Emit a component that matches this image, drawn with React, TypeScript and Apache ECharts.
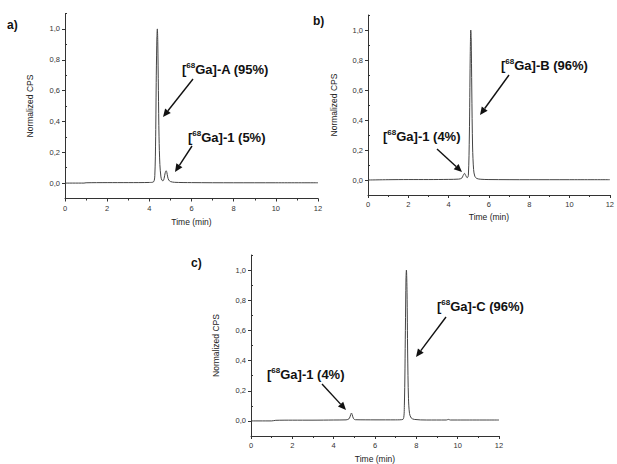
import React, { useEffect, useRef } from "react";
import * as echarts from "echarts";

// Chromatogram a) [68Ga]-A
const timeA = [0, 0.9, 1.0, 2, 3, 4.0, 4.2, 4.26, 4.3, 4.33, 4.36, 4.38, 4.4, 4.43, 4.46, 4.5, 4.55, 4.6, 4.65, 4.7, 4.75, 4.8, 4.83, 4.87, 4.92, 5.0, 5.2, 6, 8, 10, 12];
const cpsA = [0, 0, 0.002, 0.003, 0.003, 0.004, 0.008, 0.05, 0.3, 0.7, 0.95, 1.0, 0.92, 0.6, 0.3, 0.12, 0.04, 0.018, 0.015, 0.03, 0.065, 0.08, 0.07, 0.04, 0.02, 0.01, 0.005, 0.003, 0.002, 0.002, 0.002];

// Chromatogram b) [68Ga]-B
const timeB = [0, 1.0, 2, 3, 4.0, 4.5, 4.65, 4.72, 4.79, 4.85, 4.92, 4.98, 5.03, 5.07, 5.1, 5.12, 5.15, 5.19, 5.24, 5.3, 5.4, 5.6, 6, 8, 10, 12];
const cpsB = [0, 0.002, 0.003, 0.003, 0.004, 0.006, 0.012, 0.03, 0.044, 0.03, 0.015, 0.03, 0.3, 0.8, 1.0, 0.95, 0.6, 0.22, 0.07, 0.025, 0.01, 0.005, 0.003, 0.002, 0.002, 0.002];

// Chromatogram c) [68Ga]-C
const timeC = [0, 1.0, 1.2, 2, 3, 4.0, 4.6, 4.75, 4.82, 4.86, 4.9, 4.96, 5.05, 6, 7.0, 7.35, 7.42, 7.47, 7.5, 7.52, 7.55, 7.58, 7.62, 7.67, 7.75, 7.9, 8.5, 9.45, 9.55, 9.65, 10, 12];
const cpsC = [0, 0, 0.004, 0.005, 0.005, 0.006, 0.007, 0.015, 0.04, 0.052, 0.04, 0.015, 0.008, 0.007, 0.007, 0.01, 0.1, 0.6, 0.95, 1.0, 0.85, 0.45, 0.15, 0.05, 0.02, 0.01, 0.006, 0.006, 0.01, 0.006, 0.006, 0.006];

const xTicks = [0, 2, 4, 6, 8, 10, 12];
const yMajor = [0, 0.2, 0.4, 0.6, 0.8, 1.0];
const yMinor = [-0.1, 0.1, 0.3, 0.5, 0.7, 0.9, 1.1];

const zip = (t: number[], v: number[]) => t.map((x, i) => [x, v[i]]);

const LINE = "#444";
const AX = "#333";
const FONT = "Liberation Sans";

function arrow(x1: number, y1: number, x2: number, y2: number) {
  const dx = x2 - x1;
  const dy = y2 - y1;
  const len = Math.sqrt(dx * dx + dy * dy);
  const ux = dx / len;
  const uy = dy / len;
  const hl = 8;
  const hw = 3.6;
  const bx = x2 - ux * hl;
  const by = y2 - uy * hl;
  return [
    {
      type: "line",
      shape: { x1, y1, x2: bx, y2: by },
      style: { stroke: "#111", lineWidth: 1.4 },
      silent: true,
    },
    {
      type: "polygon",
      shape: {
        points: [
          [x2, y2],
          [bx - uy * hw, by + ux * hw],
          [bx + uy * hw, by - ux * hw],
        ],
      },
      style: { fill: "#111" },
      silent: true,
    },
  ];
}

function label(x: number, y: number, text: string) {
  return {
    type: "text",
    x,
    y,
    silent: true,
    style: {
      text,
      x: 0,
      y: 0,
      fill: "#111",
      fontFamily: FONT,
      fontSize: 13,
      fontWeight: "bold",
      textAlign: "left",
      textVerticalAlign: "middle",
      lineHeight: 16,
      rich: {
        sup: {
          fontSize: 8,
          fontWeight: "bold",
          fontFamily: FONT,
          fill: "#111",
          verticalAlign: "top",
          lineHeight: 16,
        },
      },
    },
  };
}

function panelLetter(x: number, y: number, text: string) {
  return {
    type: "text",
    x,
    y,
    silent: true,
    style: {
      text,
      fill: "#111",
      fontFamily: FONT,
      fontSize: 12,
      fontWeight: "bold",
      textAlign: "left",
      textVerticalAlign: "middle",
    },
  };
}

const fmt = (v: number) => (Math.round(v * 10) / 10).toFixed(1).replace(".", ",");

export default function App() {
  const ref = useRef<HTMLDivElement>(null);

  useEffect(() => {
    if (!ref.current) return;
    const chart = echarts.init(ref.current, undefined, { renderer: "svg" });

    const grids = [
      { left: 65, top: 13.5, width: 253, height: 185 },
      { left: 368, top: 15, width: 245, height: 180 },
      { left: 251, top: 255, width: 248, height: 184 },
    ];
    const xLabelMargin = [6, 5, 5];
    const xNameGap = [19, 17, 18];
    const yNameGap = [31, 30, 31];

    const xAxis = grids.map((_, i) => ({
      type: "value",
      gridIndex: i,
      min: 0,
      max: 12,
      interval: 2,
      name: "Time (min)",
      nameLocation: "middle",
      nameGap: xNameGap[i],
      nameTextStyle: { fontFamily: FONT, fontSize: 8.5, color: "#222" },
      axisLine: { show: true, onZero: false, lineStyle: { color: AX, width: 1 } },
      axisTick: { show: true, inside: false, length: 3, lineStyle: { color: AX } },
      minorTick: { show: true, splitNumber: 2, length: 2, lineStyle: { color: AX } },
      axisLabel: {
        show: true,
        margin: xLabelMargin[i],
        fontFamily: FONT,
        fontSize: 7.5,
        color: "#333",
        customValues: xTicks,
      },
      splitLine: { show: false },
      minorSplitLine: { show: false },
    }));

    const yMain = grids.map((_, i) => ({
      type: "value",
      gridIndex: i,
      min: -0.1,
      max: 1.1,
      name: "Normalized CPS",
      nameLocation: "middle",
      nameRotate: 90,
      nameGap: yNameGap[i],
      nameTextStyle: { fontFamily: FONT, fontSize: 8.5, color: "#222" },
      axisLine: { show: true, onZero: false, lineStyle: { color: AX, width: 1 } },
      axisTick: { show: true, inside: false, length: 3, customValues: yMajor, lineStyle: { color: AX } },
      axisLabel: {
        show: true,
        margin: 5,
        fontFamily: FONT,
        fontSize: 7.5,
        color: "#333",
        customValues: yMajor,
        formatter: (v: number) => fmt(v),
      },
      splitLine: { show: false },
    }));

    const yMinorAxes = grids.map((_, i) => ({
      type: "value",
      gridIndex: i,
      min: -0.1,
      max: 1.1,
      axisLine: { show: false },
      axisTick: { show: true, inside: false, length: 2, customValues: yMinor, lineStyle: { color: AX } },
      axisLabel: { show: false },
      splitLine: { show: false },
    }));

    const series = [
      zip(timeA, cpsA),
      zip(timeB, cpsB),
      zip(timeC, cpsC),
    ].map((data, i) => ({
      type: "line",
      xAxisIndex: i,
      yAxisIndex: i,
      data,
      showSymbol: false,
      symbol: "none",
      smooth: 0.3,
      lineStyle: { color: LINE, width: 1 },
    }));

    const graphics: any[] = [
      panelLetter(7, 25, "a)"),
      panelLetter(313, 21, "b)"),
      panelLetter(191, 263, "c)"),
      label(182, 69, "[{sup|68}Ga]-A (95%)"),
      ...arrow(193, 79, 163, 117),
      label(188, 137, "[{sup|68}Ga]-1 (5%)"),
      ...arrow(192, 146, 175, 172),
      label(501, 65, "[{sup|68}Ga]-B (96%)"),
      ...arrow(509, 75, 480, 115),
      label(383, 136, "[{sup|68}Ga]-1 (4%)"),
      ...arrow(437, 149, 462, 172),
      label(267, 374, "[{sup|68}Ga]-1 (4%)"),
      ...arrow(322, 384, 346, 410),
      label(437, 306, "[{sup|68}Ga]-C (96%)"),
      ...arrow(446, 317, 416, 357),
    ];

    chart.setOption({
      animation: false,
      backgroundColor: "#ffffff",
      grid: grids.map((g) => ({ ...g, containLabel: false })),
      xAxis,
      yAxis: [...yMain, ...yMinorAxes],
      series,
      graphic: graphics,
    });

    return () => chart.dispose();
  }, []);

  return (
    <div
      ref={ref}
      style={{ position: "fixed", left: 0, top: 0, width: 617, height: 464, background: "#fff" }}
    />
  );
}
